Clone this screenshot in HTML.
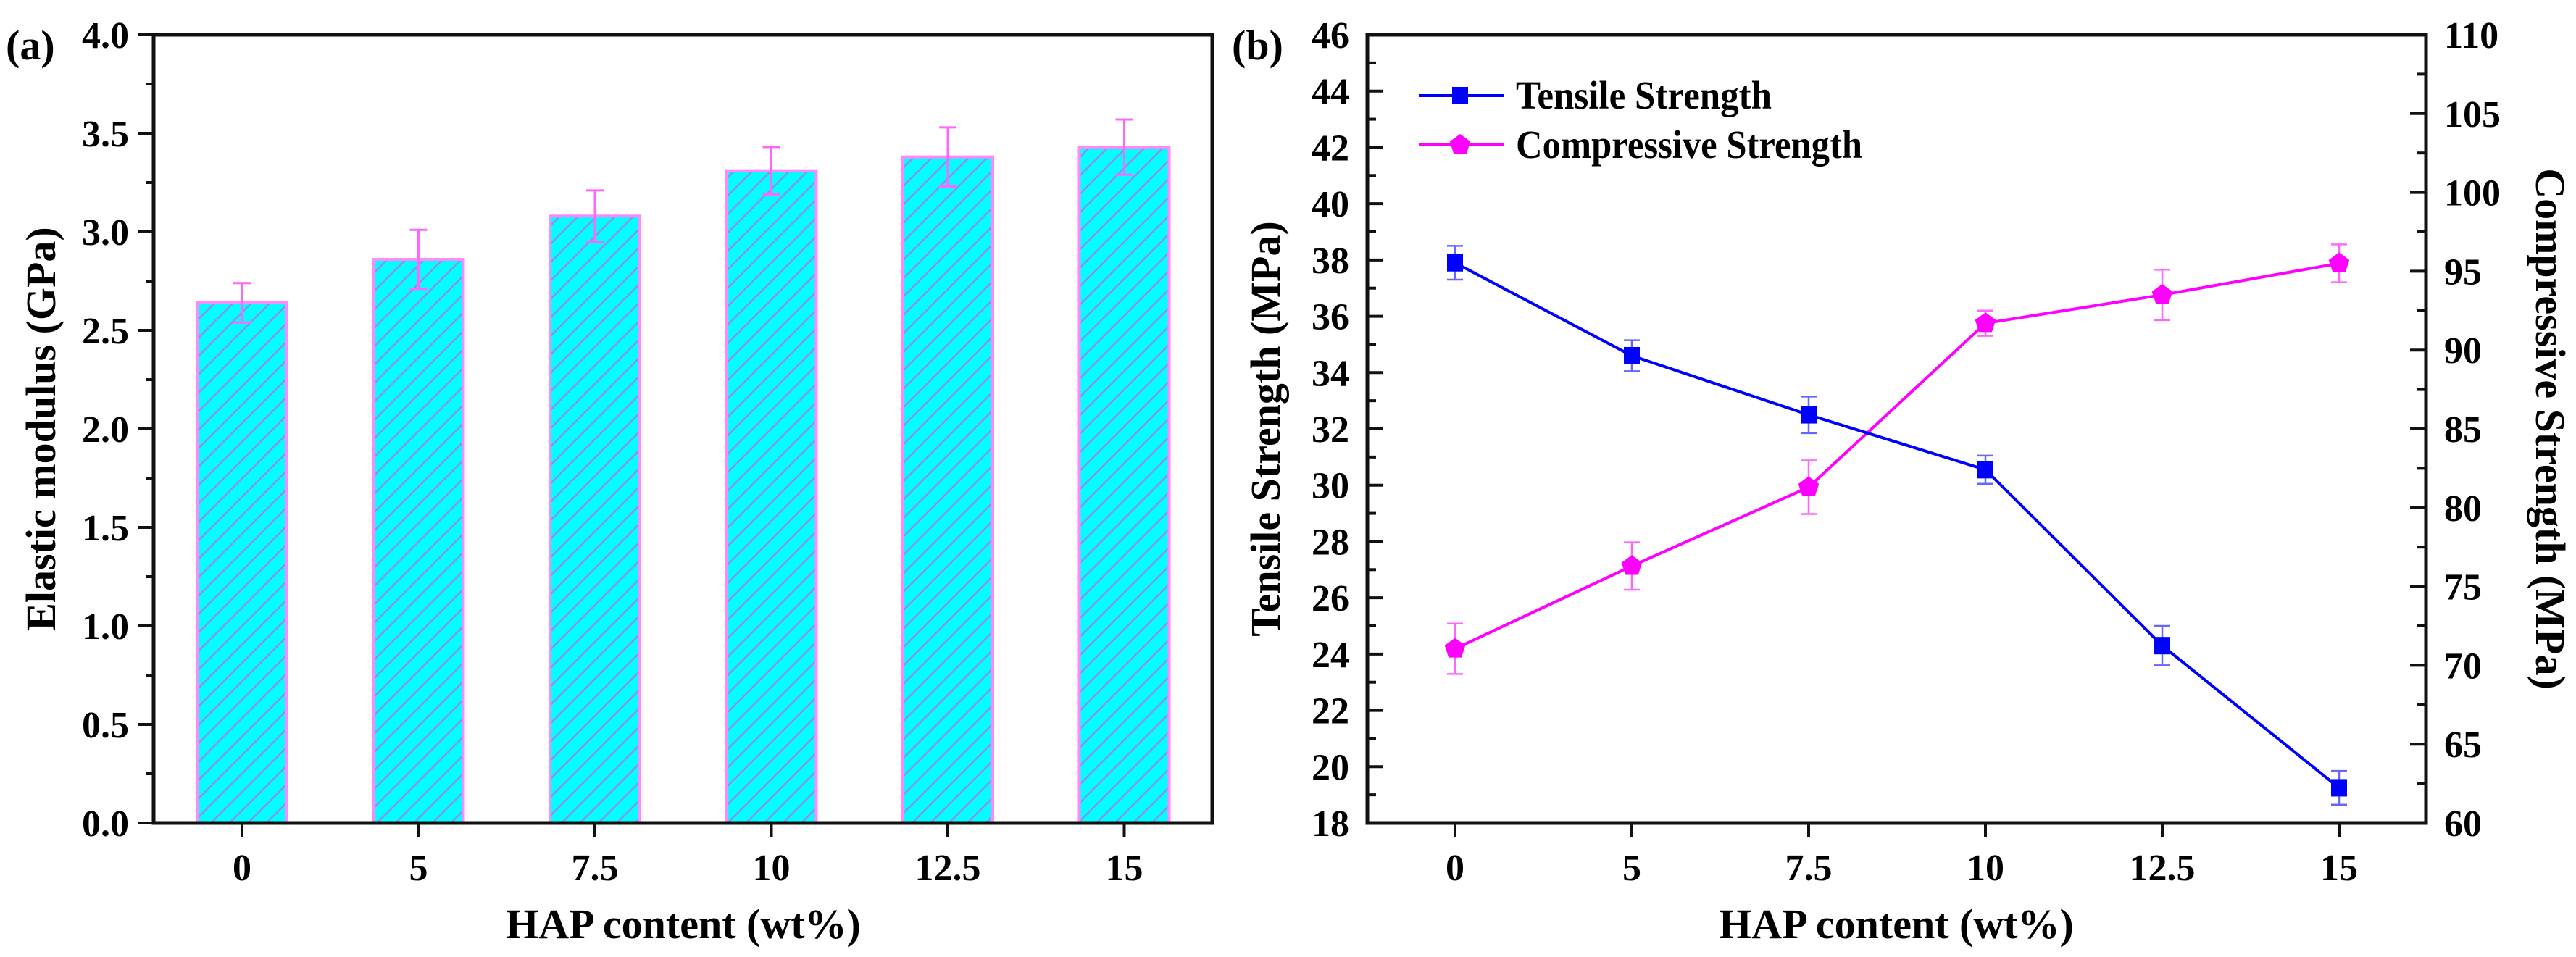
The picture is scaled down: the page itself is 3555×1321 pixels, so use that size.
<!DOCTYPE html>
<html><head><meta charset="utf-8"><style>
html,body{margin:0;padding:0;background:#fff;}
svg{display:block;font-family:"Liberation Serif",serif;font-weight:bold;}
</style></head><body>
<svg id="fig" width="3555" height="1321" viewBox="0 0 3555 1321" xmlns="http://www.w3.org/2000/svg">
<defs>
<pattern id="hatch" patternUnits="userSpaceOnUse" width="18" height="18" patternTransform="rotate(45)">
<rect width="18" height="18" fill="#00ffff"/>
<line x1="0" y1="0" x2="0" y2="18" stroke="#8f8fe8" stroke-width="5"/>
</pattern>
</defs>
<g id="pa"></g>
<g id="pb"></g>
</svg>
<script>
const categories = ["0","5","7.5","10","12.5","15"];
const modulusValues = [2.64, 2.86, 3.08, 3.31, 3.38, 3.43];
const modulusErrors = [0.10, 0.15, 0.13, 0.12, 0.15, 0.14];
const modulusTicks = ["0.0","0.5","1.0","1.5","2.0","2.5","3.0","3.5","4.0"];
const tensileValues = [37.9, 34.6, 32.5, 30.55, 24.3, 19.25];
const tensileErrors = [0.6, 0.55, 0.65, 0.5, 0.7, 0.6];
const compValues = [71.05, 76.3, 81.3, 91.7, 93.5, 95.5];
const compErrors = [1.6, 1.5, 1.7, 0.8, 1.6, 1.2];
const tensileTicks = [18,20,22,24,26,28,30,32,34,36,38,40,42,44,46];
const compTicks = [60,65,70,75,80,85,90,95,100,105,110];

const NS = "http://www.w3.org/2000/svg";
function mk(parent, tag, attrs, text){
  const e = document.createElementNS(NS, tag);
  for (const k in attrs) e.setAttribute(k, attrs[k]);
  if (text !== undefined) e.textContent = text;
  parent.appendChild(e);
  return e;
}
const TOP = 48, BOT = 1136;

// ---------- Panel A ----------
const pa = document.getElementById('pa');
const aL = 212, aR = 1673;
const ax = i => 334 + 243.5 * i;
const ay = v => BOT - (v / 4) * (BOT - TOP);
modulusValues.forEach((v, i) => {
  const r = mk(pa, 'rect', {x: ax(i) - 62, y: ay(v), width: 124, height: BOT - ay(v), fill: 'url(#hatch)', stroke: '#ff88ff', 'stroke-width': 4});
  
  
  const e = modulusErrors[i];
  const g = mk(pa, 'g', {stroke: '#ff66ff', 'stroke-width': 3});
  
  
  mk(g, 'line', {x1: ax(i), x2: ax(i), y1: ay(v + e), y2: ay(v - e)});
  mk(g, 'line', {x1: ax(i) - 12, x2: ax(i) + 12, y1: ay(v + e), y2: ay(v + e)});
  mk(g, 'line', {x1: ax(i) - 12, x2: ax(i) + 12, y1: ay(v - e), y2: ay(v - e)});
});
const fa = mk(pa, 'rect', {x: aL, y: TOP, width: aR - aL, height: BOT - TOP, fill: 'none', stroke: '#111', 'stroke-width': 5});


modulusTicks.forEach((t, i) => {
  const v = i * 0.5, y = ay(v);
  mk(pa, 'line', {x1: aL - 22, x2: aL, y1: y, y2: y, stroke: '#111', 'stroke-width': 4});
  if (i < 8) mk(pa, 'line', {x1: aL - 11, x2: aL, y1: ay(v + 0.25), y2: ay(v + 0.25), stroke: '#111', 'stroke-width': 4});
  const tx = mk(pa, 'text', {x: aL - 34, y: y + 18, 'font-size': 52, 'text-anchor': 'end'}, t);
  
  
});
categories.forEach((c, i) => {
  mk(pa, 'line', {x1: ax(i), x2: ax(i), y1: BOT, y2: BOT + 20, stroke: '#111', 'stroke-width': 4});
  const tx = mk(pa, 'text', {x: ax(i), y: 1215, 'font-size': 52, 'text-anchor': 'middle'}, c);
  
  
});
</script>
<script>
const pb = document.getElementById('pb');
const bL = 1887, bR = 3348;
const bx = i => 2008 + 244 * i;
const byT = v => BOT - (v - 18) / 28 * (BOT - TOP);
const byC = v => BOT - (v - 60) / 50 * (BOT - TOP);

const fb = mk(pb, 'rect', {x: bL, y: TOP, width: bR - bL, height: BOT - TOP, fill: 'none', stroke: '#111', 'stroke-width': 5});


tensileTicks.forEach((t, i) => {
  const y = byT(t);
  mk(pb, 'line', {x1: bL, x2: bL + 22, y1: y, y2: y, stroke: '#111', 'stroke-width': 4});
  if (i < tensileTicks.length - 1) mk(pb, 'line', {x1: bL, x2: bL + 12, y1: byT(t + 1), y2: byT(t + 1), stroke: '#111', 'stroke-width': 4});
  const tx = mk(pb, 'text', {x: bL - 25, y: y + 18, 'font-size': 52, 'text-anchor': 'end'}, t);
  
  
});
compTicks.forEach((t, i) => {
  const y = byC(t);
  mk(pb, 'line', {x1: bR - 22, x2: bR, y1: y, y2: y, stroke: '#111', 'stroke-width': 4});
  if (i < compTicks.length - 1) mk(pb, 'line', {x1: bR - 12, x2: bR, y1: byC(t + 2.5), y2: byC(t + 2.5), stroke: '#111', 'stroke-width': 4});
  const tx = mk(pb, 'text', {x: bR + 25, y: y + 18, 'font-size': 52, 'text-anchor': 'start'}, t);
  
  
});
categories.forEach((c, i) => {
  mk(pb, 'line', {x1: bx(i), x2: bx(i), y1: BOT, y2: BOT + 20, stroke: '#111', 'stroke-width': 4});
  const tx = mk(pb, 'text', {x: bx(i), y: 1215, 'font-size': 52, 'text-anchor': 'middle'}, c);
  
  
});

function series(vals, errs, yf, color, name, marker) {
  const g = mk(pb, 'g', {});
  
  
  const line = mk(g, 'polyline', {points: vals.map((v, i) => bx(i) + ',' + yf(v)).join(' '), fill: 'none', stroke: color, 'stroke-width': 4});
  
  
  vals.forEach((v, i) => {
    const x = bx(i), e = errs[i];
    const eb = mk(g, 'g', {stroke: color, 'stroke-width': 2.5, opacity: 0.6});
    
    
    mk(eb, 'line', {x1: x, x2: x, y1: yf(v + e), y2: yf(v - e)});
    mk(eb, 'line', {x1: x - 11, x2: x + 11, y1: yf(v + e), y2: yf(v + e)});
    mk(eb, 'line', {x1: x - 11, x2: x + 11, y1: yf(v - e), y2: yf(v - e)});
    const m = marker(g, x, yf(v));
    
    
  });
}
const square = (g, x, y) => mk(g, 'rect', {x: x - 11, y: y - 12, width: 22, height: 24, fill: '#0000ff'});
const pent = (g, x, y) => {
  const r = 15, pts = [];
  for (let k = 0; k < 5; k++) { const a = -Math.PI / 2 + k * 2 * Math.PI / 5; pts.push((x + r * Math.cos(a)) + ',' + (y + r * Math.sin(a))); }
  return mk(g, 'polygon', {points: pts.join(' '), fill: '#ff00ff'});
};
series(compValues, compErrors, byC, '#ff00ff', 'compressive', pent);
series(tensileValues, tensileErrors, byT, '#0000ff', 'tensile', square);

// legend
const lg = mk(pb, 'g', {});


const le1 = mk(lg, 'g', {});


mk(le1, 'line', {x1: 1958, x2: 2076, y1: 132, y2: 132, stroke: '#0000ff', 'stroke-width': 4});
square(le1, 2015, 132);
mk(le1, 'text', {x: 2092, y: 150, 'font-size': 55, textLength: 353, lengthAdjust: 'spacingAndGlyphs'}, 'Tensile Strength');
const le2 = mk(lg, 'g', {});


mk(le2, 'line', {x1: 1958, x2: 2076, y1: 200, y2: 200, stroke: '#ff00ff', 'stroke-width': 4});
pent(le2, 2015, 200);
mk(le2, 'text', {x: 2092, y: 218, 'font-size': 55, textLength: 478, lengthAdjust: 'spacingAndGlyphs'}, 'Compressive Strength');
</script>
<script>
const svg = document.getElementById('fig');
function lbl(txt, attrs, name) {
  const t = mk(svg, 'text', attrs, txt);
  
  
}
lbl('(a)', {x: 8, y: 82, 'font-size': 58}, 'panel-label-a');
lbl('(b)', {x: 1700, y: 82, 'font-size': 58}, 'panel-label-b');
lbl('HAP content (wt%)', {x: 943, y: 1295, 'font-size': 58, 'text-anchor': 'middle'}, 'x-axis-title-a');
lbl('HAP content (wt%)', {x: 2617, y: 1295, 'font-size': 58, 'text-anchor': 'middle'}, 'x-axis-title-b');
lbl('Elastic modulus (GPa)', {x: 0, y: 0, 'font-size': 58, 'text-anchor': 'middle', transform: 'translate(76,592) rotate(-90)'}, 'y-axis-title-a');
lbl('Tensile Strength (MPa)', {x: 0, y: 0, 'font-size': 58, 'text-anchor': 'middle', transform: 'translate(1766,592) rotate(-90)'}, 'left-y-axis-title-b');
lbl('Compressive Strength (MPa)', {x: 0, y: 0, 'font-size': 58, 'text-anchor': 'middle', transform: 'translate(3500,592) rotate(90)'}, 'right-y-axis-title-b');
</script>
</body></html>
